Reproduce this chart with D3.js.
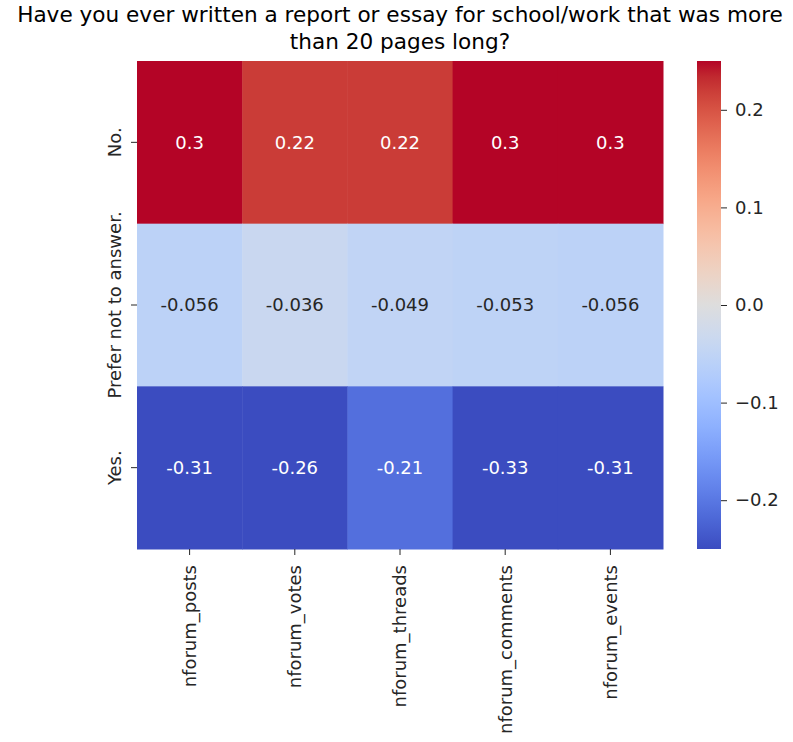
<!DOCTYPE html>
<html>
<head>
<meta charset="utf-8">
<script src="https://cdn.jsdelivr.net/npm/d3@7"></script>
<style>
  body { margin: 0; background: #fff; }
  text { font-family: "DejaVu Sans", sans-serif; }
</style>
</head>
<body>
<div id="chart"></div>
<script>
var title = ["Have you ever written a report or essay for school/work that was more", "than 20 pages long?"];
var rows = ["No.", "Prefer not to answer.", "Yes."];
var cols = ["nforum_posts", "nforum_votes", "nforum_threads", "nforum_comments", "nforum_events"];
var rowNo = [0.3, 0.22, 0.22, 0.3, 0.3];
var rowPrefer = [-0.056, -0.036, -0.049, -0.053, -0.056];
var rowYes = [-0.31, -0.26, -0.21, -0.33, -0.31];
var values = [rowNo, rowPrefer, rowYes];
var cbTicks = [-0.2, -0.1, 0.0, 0.1, 0.2];
var vmin = -0.25, vmax = 0.25;

// matplotlib coolwarm (Moreland), 33 stops
var coolwarm = [
  [0.2298,0.2987,0.7537],[0.2662,0.3531,0.8015],[0.3039,0.4065,0.8450],[0.3428,0.4588,0.8837],
  [0.3830,0.5094,0.9174],[0.4244,0.5581,0.9456],[0.4667,0.6046,0.9682],[0.5096,0.6483,0.9848],
  [0.5530,0.6889,0.9954],[0.5963,0.7261,0.9998],[0.6392,0.7596,0.9982],[0.6813,0.7890,0.9904],
  [0.7222,0.8140,0.9766],[0.7615,0.8343,0.9569],[0.7987,0.8498,0.9317],[0.8335,0.8602,0.9011],
  [0.8654,0.8654,0.8654],[0.8978,0.8489,0.8209],[0.9241,0.8274,0.7745],[0.9445,0.8009,0.7267],
  [0.9589,0.7698,0.6780],[0.9673,0.7341,0.6288],[0.9700,0.6943,0.5794],[0.9668,0.6504,0.5303],
  [0.9580,0.6028,0.4818],[0.9437,0.5518,0.4342],[0.9239,0.4973,0.3880],[0.8990,0.4396,0.3432],
  [0.8692,0.3783,0.3003],[0.8346,0.3129,0.2593],[0.7956,0.2413,0.2205],[0.7525,0.1572,0.1841],
  [0.7057,0.0156,0.1502]
];
var cmapColors = coolwarm.map(function (c) { return d3.rgb(c[0] * 255, c[1] * 255, c[2] * 255); });
var interp = d3.piecewise(d3.interpolateRgb, cmapColors);
function colorOf(v) {
  var t = (v - vmin) / (vmax - vmin);
  t = Math.max(0, Math.min(1, t));
  return interp(t);
}
// seaborn picks dark or light annotation text by luminance
function textColor(v) {
  var c = d3.rgb(colorOf(v));
  var lin = [c.r, c.g, c.b].map(function (x) {
    x = x / 255;
    return x <= 0.03928 ? x / 12.92 : Math.pow((x + 0.055) / 1.055, 2.4);
  });
  var lum = 0.2126 * lin[0] + 0.7152 * lin[1] + 0.0722 * lin[2];
  return lum > 0.408 ? "#262626" : "#ffffff";
}

var W = 793, H = 742;
var margin = { left: 137, top: 61 };
var width = 526, height = 488;
var fs = "18px";

var svg = d3.select("#chart").append("svg")
    .attr("width", W)
    .attr("height", H);

var g = svg.append("g")
    .attr("transform", "translate(" + margin.left + "," + margin.top + ")");

var x = d3.scaleBand().domain(cols).range([0, width]);
var y = d3.scaleBand().domain(rows).range([0, height]);

var cells = [];
values.forEach(function (r, i) {
  r.forEach(function (v, j) {
    cells.push({ row: rows[i], col: cols[j], v: v });
  });
});

g.selectAll("rect.cell")
    .data(cells)
    .enter()
    .append("rect")
    .attr("class", "cell")
    .attr("x", function (d) { return x(d.col); })
    .attr("y", function (d) { return y(d.row); })
    .attr("width", x.bandwidth() + 0.5)
    .attr("height", y.bandwidth() + 0.5)
    .style("fill", function (d) { return colorOf(d.v); });

g.selectAll("text.annot")
    .data(cells)
    .enter()
    .append("text")
    .attr("class", "annot")
    .attr("x", function (d) { return x(d.col) + x.bandwidth() / 2; })
    .attr("y", function (d) { return y(d.row) + y.bandwidth() / 2; })
    .attr("dy", "0.36em")
    .style("text-anchor", "middle")
    .style("font-size", fs)
    .style("fill", function (d) { return textColor(d.v); })
    .text(function (d) { return String(d.v); });

// x axis
var xAxis = g.append("g")
    .attr("transform", "translate(0," + height + ")")
    .call(d3.axisBottom(x).tickSize(6).tickPadding(6));
xAxis.select(".domain").remove();
xAxis.selectAll("line").style("stroke", "#262626");
xAxis.selectAll("text")
    .attr("transform", "rotate(-90)")
    .attr("x", -16)
    .attr("y", 0)
    .attr("dy", "0.36em")
    .style("text-anchor", "end")
    .style("font-size", fs)
    .style("fill", "#262626");

// y axis
var yAxis = g.append("g")
    .call(d3.axisLeft(y).tickSize(6).tickPadding(6));
yAxis.select(".domain").remove();
yAxis.selectAll("line").style("stroke", "#262626");
yAxis.selectAll("text")
    .attr("transform", "rotate(-90)")
    .attr("x", 0)
    .attr("y", -16)
    .attr("dy", "0")
    .style("text-anchor", "middle")
    .style("font-size", fs)
    .style("fill", "#262626");

// title
svg.append("g").selectAll("text")
    .data(title)
    .enter()
    .append("text")
    .attr("x", margin.left + width / 2)
    .attr("y", function (d, i) { return 22 + i * 26.5; })
    .style("text-anchor", "middle")
    .style("font-size", "21.6px")
    .style("fill", "#000")
    .text(function (d) { return d; });

// colorbar
var cbX = 697, cbW = 24;
var cbScale = d3.scaleLinear().domain([vmin, vmax]).range([margin.top + height, margin.top]);
var defs = svg.append("defs");
var grad = defs.append("linearGradient")
    .attr("id", "cbgrad")
    .attr("x1", "0").attr("y1", "1").attr("x2", "0").attr("y2", "0");
grad.selectAll("stop")
    .data(cmapColors)
    .enter()
    .append("stop")
    .attr("offset", function (d, i) { return (i / (cmapColors.length - 1) * 100) + "%"; })
    .attr("stop-color", function (d) { return d.formatHex(); });

svg.append("rect")
    .attr("x", cbX)
    .attr("y", margin.top)
    .attr("width", cbW)
    .attr("height", height)
    .style("fill", "url(#cbgrad)");

var cbAxis = svg.append("g")
    .attr("transform", "translate(" + (cbX + cbW) + ",0)")
    .call(d3.axisRight(cbScale).tickValues(cbTicks).tickSize(6).tickPadding(8)
      .tickFormat(function (d) { return d3.format(".1f")(d).replace("-", "\u2212"); }));
cbAxis.select(".domain").remove();
cbAxis.selectAll("line").style("stroke", "#262626");
cbAxis.selectAll("text")
    .style("font-size", fs)
    .style("fill", "#262626");
</script>
</body>
</html>
